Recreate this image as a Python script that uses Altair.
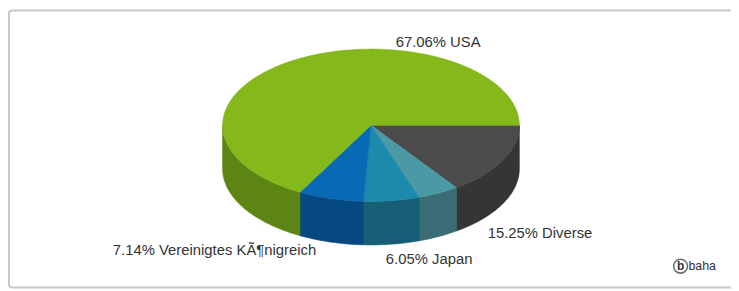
import altair as alt
import numpy as np
import pandas as pd

# ---- data ----
names = ["Diverse", "Sonstige", "Japan", "Vereinigtes KÃ¶nigreich", "USA"]
values = [15.25, 4.50, 6.05, 7.14, 67.06]
show_label = [True, False, True, True, True]
top_colors = ["#4b4b4b", "#4a99a5", "#1d8aab", "#0869b5", "#85b81b"]
side_colors = ["#353535", "#3a6c73", "#165f77", "#064880", "#5c8514"]

# ---- geometry of the 3D pie (chart pixel space) ----
W, H = 731, 283
CX, CY, RX, RY, DEPTH = 367, 117, 150, 77, 44

total = sum(values)
bounds = np.concatenate([[0.0], np.cumsum(values)]) / total * 360.0


def arc(a1, a2):
    n = max(2, int(abs(a2 - a1)) + 1)
    t = np.radians(np.linspace(a1, a2, n))
    return list(zip(CX + RX * np.cos(t), CY + RY * np.sin(t)))


top_rows, side_rows = [], []
for k in range(len(values)):
    a1, a2 = bounds[k], bounds[k + 1]
    pts = [(CX, CY)] + arc(a1, a2) + [(CX, CY)]
    for i, (x, y) in enumerate(pts):
        top_rows.append(dict(poly=k, i=i, x=x, y=y, color=top_colors[k]))
    s1, s2 = max(a1, 0.0), min(a2, 180.0)
    if s2 > s1:
        upper = arc(s1, s2)
        lower = [(x, y + DEPTH) for (x, y) in reversed(upper)]
        pts = upper + lower + [upper[0]]
        for i, (x, y) in enumerate(pts):
            side_rows.append(dict(poly=k, i=i, x=x, y=y, color=side_colors[k]))

tops = pd.DataFrame(top_rows)
sides = pd.DataFrame(side_rows)

xs = alt.Scale(domain=[0, W], nice=False, zero=False)
ys = alt.Scale(domain=[0, H], nice=False, zero=False, reverse=True)


def poly_layer(df):
    return alt.Chart(df).mark_line(strokeWidth=0.6, strokeJoin="round").encode(
        x=alt.X("x:Q", scale=xs, axis=None),
        y=alt.Y("y:Q", scale=ys, axis=None),
        detail="poly:N",
        order="i:Q",
        fill=alt.Fill("color:N", scale=None),
        stroke=alt.Stroke("color:N", scale=None),
    )


# label placement (left edge, baseline) per labelled slice
label_pos = {"USA": (392, 38), "Diverse": (485, 231), "Japan": (382, 257),
             "Vereinigtes KÃ¶nigreich": (106, 248)}
lab_rows = []
for n, v, s in zip(names, values, show_label):
    if s:
        lx, ly = label_pos[n]
        lab_rows.append(dict(x=lx, y=ly, text=f"{v:.2f}% {n}"))
labels_df = pd.DataFrame(lab_rows)

labels = alt.Chart(labels_df).mark_text(
    align="left", baseline="alphabetic", font="Liberation Sans",
    fontSize=15, color="#333333"
).encode(
    x=alt.X("x:Q", scale=xs, axis=None),
    y=alt.Y("y:Q", scale=ys, axis=None),
    text="text:N",
)

frame = alt.Chart(pd.DataFrame({"a": [0]})).mark_rect(
    fill="white", stroke="#c8c8c8", strokeWidth=2, cornerRadius=3
).encode(x=alt.value(1), x2=alt.value(W + 10), y=alt.value(1), y2=alt.value(281))

logo_df = pd.DataFrame({"x": [680], "y": [259.5]})
logo_circle = alt.Chart(logo_df).mark_point(
    shape="circle", size=196, stroke="#333333", strokeWidth=1.6, filled=False
).encode(x=alt.X("x:Q", scale=xs, axis=None), y=alt.Y("y:Q", scale=ys, axis=None))
logo_b = alt.Chart(logo_df).mark_text(
    text="b", font="Liberation Sans", fontWeight="bold", fontSize=12,
    color="#333333", baseline="middle", align="center", dy=0
).encode(x=alt.X("x:Q", scale=xs, axis=None), y=alt.Y("y:Q", scale=ys, axis=None))
logo_t = alt.Chart(logo_df).mark_text(
    text="baha", font="Liberation Sans", fontSize=12.5,
    color="#333333", baseline="middle", align="left", dx=8
).encode(x=alt.X("x:Q", scale=xs, axis=None), y=alt.Y("y:Q", scale=ys, axis=None))

chart = alt.layer(
    frame, poly_layer(sides), poly_layer(tops), labels, logo_circle, logo_b, logo_t
).properties(
    width=W, height=H, padding=0, autosize=alt.AutoSizeParams(type="none"),
    background="white"
).configure_view(stroke=None)

chart.save("out.html", embed_options={"renderer": "svg", "actions": False})
